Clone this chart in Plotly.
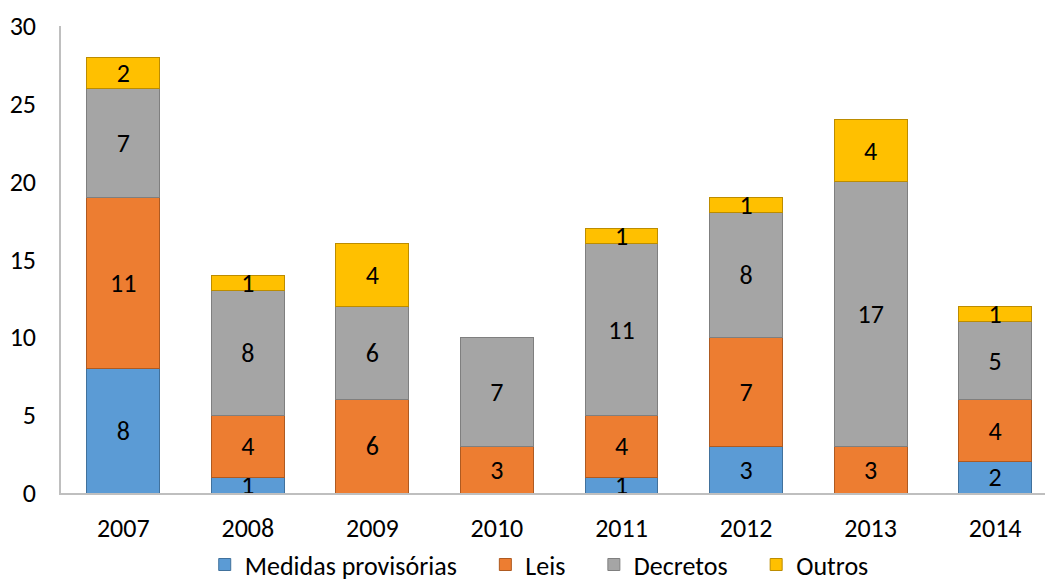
import plotly.graph_objects as go

anos = ["2007", "2008", "2009", "2010", "2011", "2012", "2013", "2014"]
medidas_provisorias = [8, 1, 0, 0, 1, 3, 0, 2]
leis = [11, 4, 6, 3, 4, 7, 3, 4]
decretos = [7, 8, 6, 7, 11, 8, 17, 5]
outros = [2, 1, 4, 0, 1, 1, 4, 1]
y_ticks = [0, 5, 10, 15, 20, 25, 30]

FONT = "Carlito, Calibri, Lato, sans-serif"
SIZE = 26
PAD = "\u00a0" * 4  # extra room between legend entries

series = [
    ("Medidas provisórias", medidas_provisorias, "#5B9BD5", "#41719C"),
    ("Leis", leis, "#ED7D31", "#AE5A21"),
    ("Decretos", decretos, "#A5A5A5", "#7F7F7F"),
    ("Outros", outros, "#FFC000", "#BC8C00"),
]

fig = go.Figure()
for i, (nome, valores, cor, borda) in enumerate(series):
    fig.add_trace(go.Bar(
        name=nome + (PAD if i < len(series) - 1 else ""),
        x=list(range(len(anos))),
        # empty segments are left out so no outline is drawn for them
        y=[v if v else None for v in valores],
        marker=dict(color=cor, line=dict(color=borda, width=1)),
        text=[str(v) if v else "" for v in valores],
        textposition="inside",
        insidetextanchor="middle",
        constraintext="none",
        textangle=0,
        textfont=dict(family=FONT, size=SIZE, color="#000000"),
    ))

fig.update_layout(
    barmode="stack",
    bargap=0.415,
    width=1045,
    height=582,
    margin=dict(l=61, r=0, t=26, b=89, autoexpand=False),
    paper_bgcolor="white",
    plot_bgcolor="white",
    font=dict(family=FONT, size=SIZE, color="#000000"),
    showlegend=True,
    legend=dict(
        orientation="h",
        x=0.486, xanchor="center",
        y=-0.103, yanchor="top",
        font=dict(family=FONT, size=SIZE, color="#000000"),
        itemwidth=30,
        traceorder="normal",
    ),
    xaxis=dict(
        tickmode="array",
        tickvals=list(range(len(anos))),
        ticktext=anos,
        range=[-0.5, 7.4],
        showline=True,
        linecolor="#BFBFBF",
        linewidth=1.5,
        showgrid=False,
        zeroline=False,
        ticks="",
        ticklabelstandoff=11,
        tickfont=dict(family=FONT, size=SIZE, color="#000000"),
    ),
    yaxis=dict(
        range=[0, 30],
        tickmode="array",
        tickvals=y_ticks,
        showline=True,
        linecolor="#BFBFBF",
        linewidth=1.5,
        showgrid=False,
        zeroline=False,
        ticks="",
        ticklabelstandoff=18,
        tickfont=dict(family=FONT, size=SIZE, color="#000000"),
    ),
)

fig.write_html("out.html")
